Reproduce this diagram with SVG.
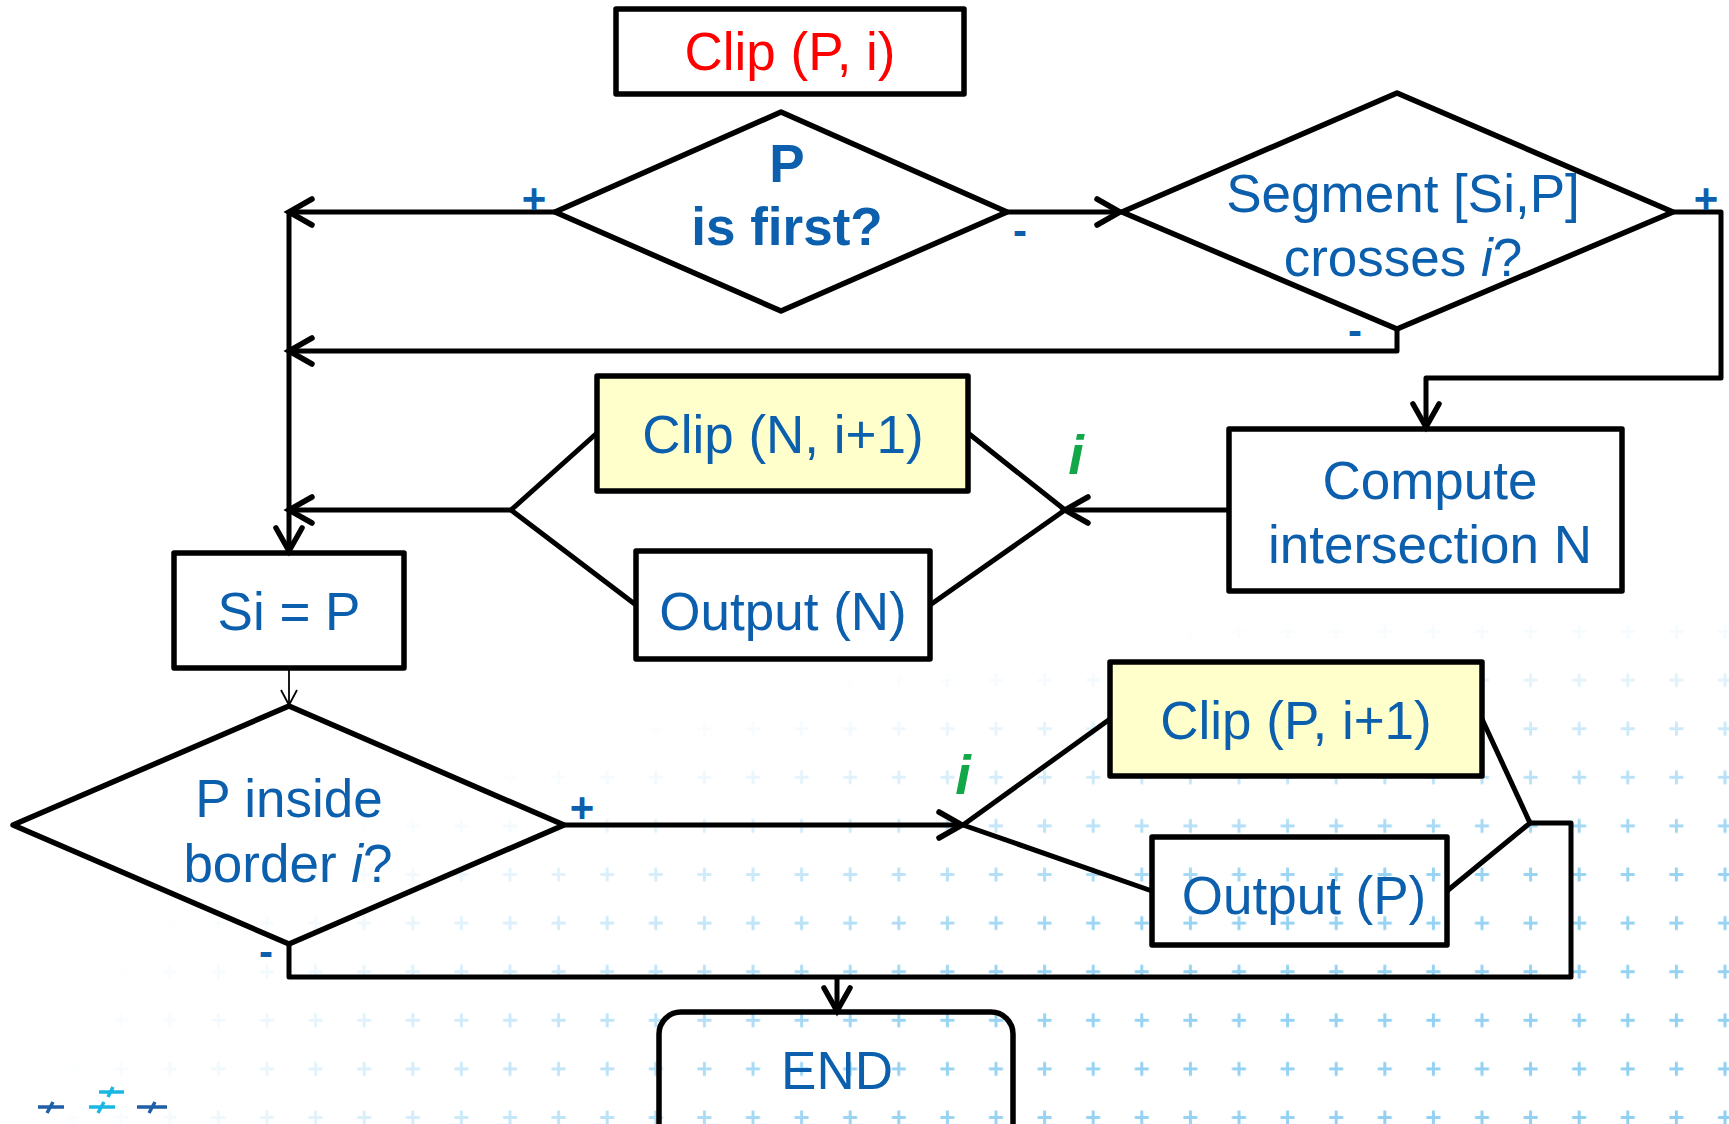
<svg xmlns="http://www.w3.org/2000/svg" width="1729" height="1124" viewBox="0 0 1729 1124">
<style>
.box{fill:none;stroke:#000;stroke-width:5.5;stroke-linejoin:round}
.yel{fill:#ffffcc;stroke:#000;stroke-width:5.5;stroke-linejoin:round}
.dia{fill:none;stroke:#000;stroke-width:5.5;stroke-linejoin:round}
.ln{fill:none;stroke:#000;stroke-width:5;stroke-linejoin:round}
.thin{fill:none;stroke:#000;stroke-width:1.8}
.t{font-family:"Liberation Sans",Arial,sans-serif;font-size:53px;fill:#0b5fad;text-anchor:middle}
.b{font-weight:bold}
.sg{font-family:"Liberation Sans",Arial,sans-serif;font-size:42px;font-weight:bold;fill:#0b5fad;text-anchor:middle}
.gi{font-family:"Liberation Sans",Arial,sans-serif;font-size:56px;font-weight:bold;font-style:italic;fill:#12a84a;text-anchor:middle}
</style>
<defs>
<marker id="ah" markerUnits="userSpaceOnUse" markerWidth="60" markerHeight="60" viewBox="0 0 60 60" refX="30" refY="30" orient="auto">
<path d="M7,17 L30,30 L7,43" fill="none" stroke="#000" stroke-width="5.5" stroke-linecap="round" stroke-linejoin="miter"/>
</marker>
<marker id="ahs" markerUnits="userSpaceOnUse" markerWidth="40" markerHeight="40" viewBox="0 0 40 40" refX="20" refY="20" orient="auto">
<path d="M5,12 L20,20 L5,28" fill="none" stroke="#000" stroke-width="1.8"/>
</marker>
<pattern id="plus" patternUnits="userSpaceOnUse" x="-0.3" y="-24.6" width="48.6" height="48.6">
<path d="M17.3,24.3 H31.3 M24.3,17.3 V31.3" stroke="#8fcff2" stroke-width="3" fill="none"/>
</pattern>
<radialGradient id="fade" gradientUnits="userSpaceOnUse" cx="1729" cy="1124" r="550" gradientTransform="translate(1729 1124) scale(3.2 1) translate(-1729 -1124)">
<stop offset="0" stop-color="#fff"/>
<stop offset="0.5" stop-color="#fff" stop-opacity="0.9"/>
<stop offset="0.72" stop-color="#fff" stop-opacity="0.45"/>
<stop offset="0.87" stop-color="#fff" stop-opacity="0.12"/>
<stop offset="0.97" stop-color="#fff" stop-opacity="0"/>
</radialGradient>
<mask id="m">
<rect x="0" y="0" width="1729" height="1124" fill="url(#fade)"/>
</mask>
</defs>
<rect x="0" y="0" width="1729" height="1124" fill="#fff"/>
<rect x="0" y="0" width="1729" height="1124" fill="url(#plus)" mask="url(#m)"/>

<g id="logo-left" fill="none" stroke-width="3.5" stroke-linecap="butt">
<path d="M38,1107 H64 M53,1102 L47,1113" stroke="#1f5fa8"/>
<path d="M89,1107 H115 M104,1102 L98,1113" stroke="#1ab6e4"/>
<path d="M99,1092 H124 M113,1087 L108,1097" stroke="#1ab6e4"/>
<path d="M137,1107 H167 M155,1102 L149,1113" stroke="#1f5fa8"/>
</g>

<g id="connectors">
<path class="ln" d="M555,212 H289" marker-end="url(#ah)"/>
<path class="ln" d="M289,212 V551" marker-end="url(#ah)"/>
<path class="ln" d="M1007,212 H1120" marker-end="url(#ah)"/>
<path class="ln" d="M1397,329 V351 H289" marker-end="url(#ah)"/>
<path class="ln" d="M1673,212 H1721 V378 H1426 V427" marker-end="url(#ah)"/>
<path class="ln" d="M1229,510 H1065" marker-end="url(#ah)"/>
<path class="ln" d="M968,433 L1065,510 L930,605"/>
<path class="ln" d="M597,433 L511,510 L636,605"/>
<path class="ln" d="M511,510 H289" marker-end="url(#ah)"/>
<path class="thin" d="M289,668 V705" marker-end="url(#ahs)"/>
<path class="ln" d="M564,825 H962" marker-end="url(#ah)"/>
<path class="ln" d="M1110,719 L963,825 L1152,891"/>
<path class="ln" d="M1482,719 L1530,823 L1447,891"/>
<path class="ln" d="M1530,823 H1571 V977 H289 V944"/>
<path class="ln" d="M837,977 V1011" marker-end="url(#ah)"/>
</g>

<g id="clip-p-i">
<rect class="box" x="616" y="9" width="348" height="85"/>
<text class="t" x="790" y="70" style="fill:#ff0000">Clip (P, i)</text>
</g>

<g id="p-is-first">
<polygon class="dia" points="781,112 1007,212 781,311 555,212"/>
<text class="t b" x="787" y="182">P</text>
<text class="t b" x="787" y="245">is first?</text>
<text class="sg" x="534" y="213">+</text>
<text class="sg" x="1020" y="245">-</text>
</g>

<g id="segment-crosses">
<polygon class="dia" points="1397,93 1673,212 1397,329 1122,212"/>
<text class="t" x="1403" y="212">Segment [Si,P]</text>
<text class="t" x="1403" y="276">crosses <tspan font-style="italic">i</tspan>?</text>
<text class="sg" x="1706" y="213">+</text>
<text class="sg" x="1355" y="345">-</text>
</g>

<g id="compute-n">
<rect class="box" x="1229" y="429" width="393" height="162"/>
<text class="t" x="1430" y="499">Compute</text>
<text class="t" x="1430" y="563">intersection N</text>
</g>

<g id="clip-n">
<rect class="yel" x="597" y="376" width="371" height="115"/>
<text class="t" x="783" y="453">Clip (N, i+1)</text>
</g>

<g id="output-n">
<rect class="box" x="636" y="551" width="294" height="108"/>
<text class="t" x="783" y="630">Output (N)</text>
</g>

<text class="gi" x="1076" y="474">i</text>

<g id="si-p">
<rect class="box" x="174" y="553" width="230" height="115"/>
<text class="t" x="289" y="630">Si = P</text>
</g>

<g id="p-inside">
<polygon class="dia" points="289,706 564,825 289,944 13,825"/>
<text class="t" x="289" y="817">P inside</text>
<text class="t" x="288" y="882">border <tspan font-style="italic">i</tspan>?</text>
<text class="sg" x="582" y="822">+</text>
<text class="sg" x="266" y="966">-</text>
</g>

<text class="gi" x="963" y="794">i</text>

<g id="clip-p-i1">
<rect class="yel" x="1110" y="662" width="372" height="114"/>
<text class="t" x="1296" y="739">Clip (P, i+1)</text>
</g>

<g id="output-p">
<rect class="box" x="1152" y="837" width="295" height="108"/>
<text class="t" x="1304" y="914">Output (P)</text>
</g>

<g id="end">
<rect class="box" x="659" y="1012" width="354" height="135" rx="22"/>
<text class="t" x="837" y="1089">END</text>
</g>
</svg>
